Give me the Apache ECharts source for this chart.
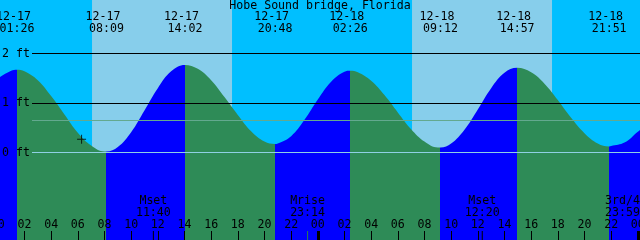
<!DOCTYPE html>
<html><head><meta charset="utf-8">
<script src="https://cdn.jsdelivr.net/npm/echarts@6/dist/echarts.min.js"></script>
<style>html,body{margin:0;padding:0;background:#00BFFF;overflow:hidden}#c{width:640px;height:240px}</style>
</head><body><div id="c"></div>
<script>
// ---------- data ----------
const chartTitle = 'Hobe Sound bridge, Florida';
// hours after midnight 12-17
const tideTimes = [0, 1, 1.433, 2, 3, 4, 5, 6, 7, 8, 8.15, 9, 10, 11, 12, 13, 14.033, 15, 16, 17, 18, 19, 20, 20.8, 21, 22, 23, 24, 25, 26, 26.433, 27, 28, 29, 30, 31, 32, 33, 33.2, 34, 35, 36, 37, 38, 38.95, 40, 41, 42, 43, 44, 45, 45.85, 46, 47, 48, 48.5];
const tideHeights = [1.50, 1.65, 1.67, 1.64, 1.46, 1.14, 0.77, 0.40, 0.14, 0.02, 0.02, 0.11, 0.41, 0.85, 1.30, 1.64, 1.77, 1.69, 1.46, 1.12, 0.76, 0.43, 0.22, 0.17, 0.18, 0.33, 0.66, 1.07, 1.43, 1.63, 1.65, 1.62, 1.45, 1.16, 0.81, 0.47, 0.22, 0.10, 0.10, 0.18, 0.46, 0.87, 1.30, 1.61, 1.71, 1.62, 1.39, 1.06, 0.70, 0.39, 0.18, 0.12, 0.13, 0.20, 0.42, 0.53];
const eventDates  = ['12-17', '12-17', '12-17', '12-17', '12-18', '12-18', '12-18', '12-18'];
const eventClocks = ['01:26', '08:09', '14:02', '20:48', '02:26', '09:12', '14:57', '21:51'];
const eventKinds  = ['High', 'Low', 'High', 'Low', 'High', 'Low', 'High', 'Low'];
const eventHeights = [1.67, 0.02, 1.77, 0.17, 1.65, 0.10, 1.71, 0.12];
const sunDates     = ['12-17', '12-18'];
const sunriseClocks = ['07:04', '07:04'];
const sunsetClocks  = ['17:34', '17:34'];
const moonNames  = ['Mset', 'Mrise', 'Mset', '3rd/4'];
const moonDates  = ['12-17', '12-17', '12-18', '12-18'];
const moonClocks = ['11:40', '23:14', '12:20', '23:59'];
const levelTicks = [0, 1, 2];
const meanLevel = 0.65;
const markDates = ['12-17'];
const markClocks = ['06:17'];
const markLevels = [0.27];

// ---------- styling ----------
const FONT = '"DejaVu Sans Mono", "Liberation Mono", monospace';
const FS = 11.6;
const NIGHT = '#00BFFF', DAY = '#87CEEB', FLOOD = '#0000FF', EBB = '#2E8B57';
const W = 640;

function hoursOf(date, clock) {
  const day = Number(date.split('-')[1]);
  const [hh, mm] = clock.split(':').map(Number);
  return (day - 17) * 24 + hh + mm / 60;
}
const eventHours = eventDates.map((d, i) => hoursOf(d, eventClocks[i]));
const moonHours = moonDates.map((d, i) => hoursOf(d, moonClocks[i]));
const dayRanges = sunDates.map((d, i) => [hoursOf(d, sunriseClocks[i]), hoursOf(d, sunsetClocks[i])]);
const markHours = markDates.map((d, i) => hoursOf(d, markClocks[i]));

// rising (flood) / falling (ebb) colouring between tide events
const pieces = [];
let prev = null;
eventHours.forEach((t, i) => {
  const p = { lt: t, color: eventKinds[i] === 'High' ? FLOOD : EBB };
  if (prev !== null) p.gte = prev;
  pieces.push(p);
  prev = t;
});
pieces.push({ gte: prev, color: eventKinds[eventKinds.length - 1] === 'High' ? EBB : FLOOD });

const pad = n => (n < 10 ? '0' : '') + n;
const textStyle = { color: '#000', fontFamily: FONT, fontSize: FS };

const chart = echarts.init(document.getElementById('c'), null, { renderer: 'canvas' });

function moonItems(offsets) {
  return moonNames.map((name, i) => ({
    coord: [moonHours[i], 0],
    y: 235.5,
    itemStyle: { color: name === 'Mrise' ? '#2E7D4A' : '#000' },
    label: { formatter: name + '\n' + moonClocks[i], offset: [offsets[i], -28.5] }
  }));
}

const option = {
  backgroundColor: NIGHT,
  animation: false,
  title: {
    text: chartTitle, left: 'center', top: 0, padding: 0,
    textStyle: { color: '#000', fontFamily: FONT, fontSize: FS, fontWeight: 'normal', lineHeight: 12 }
  },
  grid: [
    { left: -2.2, right: -4.47, top: 0, bottom: 0, containLabel: false, outerBoundsMode: 'none' },
    { left: 32, right: 0, top: 0, bottom: 0, containLabel: false, outerBoundsMode: 'none' }
  ],
  xAxis: [
    {
      gridIndex: 0, type: 'value', min: 0, max: 48.5, interval: 2, z: 10, position: 'bottom',
      axisLine: { show: false, onZero: false }, splitLine: { show: false },
      axisTick: { inside: true, length: 9, lineStyle: { color: '#000', width: 1 } },
      axisLabel: Object.assign({ inside: true, margin: 9, lineHeight: 12, showMaxLabel: false, hideOverlap: false,
        formatter: v => (v % 2 ? '' : pad(v % 24)) }, textStyle)
    },
    {
      gridIndex: 0, type: 'value', min: 0, max: 48.5, interval: 24, position: 'bottom', z: 10,
      axisLine: { show: false, onZero: false }, splitLine: { show: false }, axisLabel: { show: false },
      axisTick: { inside: true, length: 9, lineStyle: { color: '#000', width: 3 } }
    },
    { gridIndex: 1, type: 'value', min: 0, max: 1, show: false }
  ],
  yAxis: [
    { gridIndex: 0, type: 'value', min: -1.768, max: 3.081, show: false },
    {
      gridIndex: 1, type: 'value', min: -1.768, max: 3.081, z: 10,
      axisLine: { show: false, onZero: false }, axisTick: { show: false }, splitLine: { show: false },
      axisLabel: Object.assign({ customValues: levelTicks, margin: 2, formatter: '{value} ft' }, textStyle)
    }
  ],
  visualMap: {
    type: 'piecewise', show: false, seriesIndex: 2, dimension: 0, pieces: pieces
  },
  series: [
    {
      type: 'line', xAxisIndex: 0, yAxisIndex: 0, data: [], z: 1,
      markArea: { silent: true, itemStyle: { color: DAY },
        data: dayRanges.map(([a, b]) => [{ xAxis: a }, { xAxis: b }]) }
    },
    {
      type: 'line', xAxisIndex: 2, yAxisIndex: 1, data: [], z: 2,
      markLine: { silent: true, symbol: 'none', label: { show: false },
        lineStyle: { color: '#000', width: 1, type: 'solid' },
        data: levelTicks.filter(v => v > 0).map(v => ({ yAxis: v })) }
    },
    {
      type: 'line', xAxisIndex: 0, yAxisIndex: 0, z: 3,
      data: tideTimes.map((t, i) => [t, tideHeights[i]]),
      smooth: 0.4, symbol: 'none', lineStyle: { width: 0 },
      areaStyle: { origin: 'start', opacity: 1 },
      markPoint: {
        silent: true, symbol: 'rect', symbolSize: 1,
        itemStyle: { color: 'rgba(0,0,0,0)' },
        label: Object.assign({ show: true, position: 'inside', lineHeight: 12 }, textStyle),
        data: eventHours.map((t, i) => ({
          coord: [t, eventHeights[i]], y: 23.3,
          label: { formatter: eventDates[i] + ' \n' + eventClocks[i] }
        }))
      }
    },
    {
      type: 'line', xAxisIndex: 2, yAxisIndex: 1, data: [], z: 4,
      markLine: { silent: true, symbol: 'none', label: { show: false },
        lineStyle: { width: 1, type: 'solid' },
        data: [
          { yAxis: levelTicks[0], lineStyle: { color: '#8FD0E4', width: 1, type: 'solid' } },
          { yAxis: meanLevel, lineStyle: { color: '#63A98F', width: 1, type: 'solid' } }
        ] }
    },
    {
      type: 'scatter', xAxisIndex: 0, yAxisIndex: 0, z: 6,
      data: markHours.map((t, i) => [t, markLevels[i]]),
      symbol: 'path://M4,0H5V9H4Z M0,4H9V5H0Z', symbolSize: 9,
      itemStyle: { color: '#000' },
      markPoint: {
        silent: true, symbol: 'rect', symbolSize: [1, 9],
        label: Object.assign({ show: true, position: 'inside', lineHeight: 12 }, textStyle),
        data: moonItems(moonNames.map(() => 0))
      }
    }
  ]
};
chart.setOption(option);

// keep the moon labels inside the picture, as the original does
const ctx = document.createElement('canvas').getContext('2d');
ctx.font = FS + 'px ' + FONT;
const offsets = moonNames.map((name, i) => {
  const px = chart.convertToPixel({ xAxisIndex: 0 }, moonHours[i]);
  const w = Math.max(ctx.measureText(name).width, ctx.measureText(moonClocks[i]).width);
  if (px + w / 2 > W) return W - (px + w / 2);
  if (px - w / 2 < 0) return -(px - w / 2);
  return 0;
});
option.series[4].markPoint.data = moonItems(offsets);
chart.setOption(option);
</script>
</body></html>
